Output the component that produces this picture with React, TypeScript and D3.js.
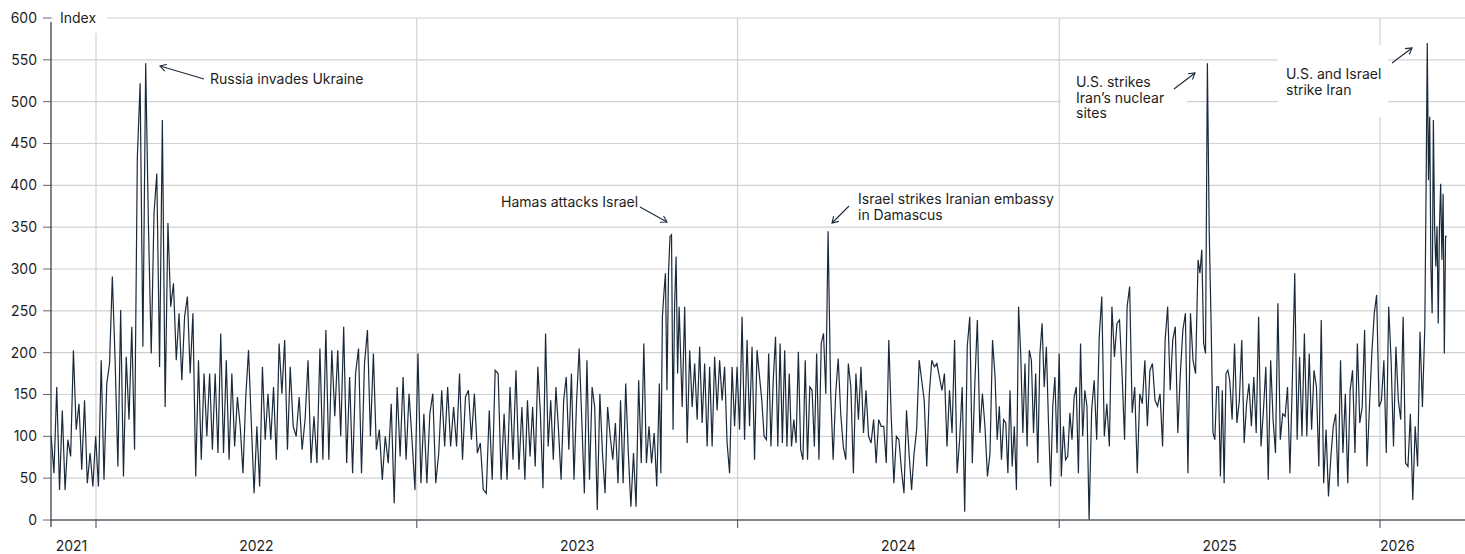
import React from 'react';
import * as d3 from 'd3';

// ---- data: daily index readings, grouped by period ----
const periodStarts = [
  '2021-11-11', '2022-08-10', '2023-05-04', '2023-10-04', '2023-10-30', '2024-01-26',
  '2024-04-13', '2024-10-20', '2025-02-04', '2025-06-08', '2025-07-14', '2026-02-21',
];
const lastDate = '2026-03-18';

const nov21ToAug22 = [100,56,159,36,131,36,96,76,203,108,
  139,60,143,44,80,40,100,40,191,48,
  163,187,291,191,64,251,52,195,120,231,
  84,434,522,207,546,351,199,367,414,183,
  478,135,355,255,283,191,247,167,243,267,
  175,247,52,191,72,175,100,175,84,175,
  80,223,80,191,72,175,88,147,112,56,
  147,203,116,32,112,40,183,96,151,96,
  159,72,211,151,215,84];
const aug22ToMay23 = [183,112,100,147,84,120,191,68,124,68,
  205,72,227,72,203,124,203,100,231,68,
  171,56,175,205,56,187,227,100,199,84,
  108,48,100,68,139,20,159,76,171,72,
  151,96,36,199,44,127,44,127,151,44,
  80,155,88,159,88,135,88,175,72,147,
  155,96,151,80,92,36,32,131,48,179,
  175,48,127,48,159,72,179,60,135];
const may23ToOct23 = [48,143,76,135,64,183,127,38,223,88,
  143,72,159,108,48,143,171,84,175,48,
  143,205,120,32,191,48,159,135,12,151,
  80,32,135,100,72,116,44,143,44,163,
  80,16,80,16,167,68,211,68,112,68,
  104,40];
const oct23Spike = [163,56,243,271,295,155,295,339,341,108,255,315,175,255,195];
const nov23ToJan24 = [135,255,92,203,135,187,120,207,116,187,
  88,183,88,195,131,191,143,183,92,56,
  183,112,183,108,243,96,215,112,207,72,
  203];
const jan24ToApr24 = [171,143,100,96,199,88,167,219,88,211,
  92,203,88,175,88,120,92,201,84,72,
  191,72,159,155,88,199,72,211,223,151];
const apr24ToOct24 = [345,155,72,151,193,127,88,72,187,159,
  56,175,120,183,104,155,100,92,120,68,
  120,112,112,68,215,120,44,100,96,60,
  32,131,80,36,80,108,191,167,143,64,
  151,191,183,187,171,155,175,88,155,104,
  215,56,96,159,10,207,243,68,163,239,
  104,151,112,52,80,215];
const oct24ToFeb25 = [171,96,136,72,120,116,56,155,64,112,
  36,255,199,104,187,88,203,191,104,175,
  68,199,235,159,207,116,40,136,171,80,
  199,52,112,72,76,128,96,147,159,56,
  211,100,155,136];
const feb25ToJun25 = [0,131,167,96,219,267,100,139,88,255,
  195,235,239,175,96,255,279,128,159,56,
  151,139,191,112,179,187,143,136,151,88,
  215,255,155,215,231,104,175,227,247,56,
  247,191,175];
const jun25Spike = [311,295,323,211,199,546,343,235,104,96,159,159,52,155,44,175,179];
const jul25ToFeb26 = [167,120,211,116,143,215,92,139,163,112,
  171,104,243,88,131,183,48,191,120,80,
  259,96,127,124,159,56,167,295,96,195,
  100,223,100,199,108,179,159,64,239,44,
  108,28,76,112,127,40,191,80,151,44,
  155,179,80,211,116,135,227,64,135,199,
  247,269,135,143,191,80,255,191,88,207,
  143,120,243,68,64,127,24,112,64,225,
  135];
const feb26Spike = [231,390,570,406,482,303,247,478,351,303,351,235,351,402,311,390,199,339,339];

const periods = [nov21ToAug22, aug22ToMay23, may23ToOct23, oct23Spike, nov23ToJan24, jan24ToApr24,
  apr24ToOct24, oct24ToFeb25, feb25ToJun25, jun25Spike, jul25ToFeb26, feb26Spike];

const yTicks = [0, 50, 100, 150, 200, 250, 300, 350, 400, 450, 500, 550, 600];
const yearLabels = ['2021', '2022', '2023', '2024', '2025', '2026'];

const annotations = [
  { lines: ['Russia invades Ukraine'], tx: 210, ty: 84, arrow: [204, 79, 160, 66] },
  { lines: ['Hamas attacks Israel'], tx: 501, ty: 207, arrow: [640, 207, 667, 222] },
  { lines: ['Israel strikes Iranian embassy', 'in Damascus'], tx: 858, ty: 204, arrow: [849, 206, 832, 223] },
  { lines: ['U.S. strikes', 'Iran\u2019s nuclear', 'sites'], tx: 1076, ty: 87, arrow: [1174, 89, 1195, 73], box: [1061, 62, 126, 71] },
  { lines: ['U.S. and Israel', 'strike Iran'], tx: 1286, ty: 79, arrow: [1392, 63, 1412, 48], box: [1278, 45, 110, 72] },
];

const W = 1465, H = 554;
const FONT = "Inter, 'Liberation Sans', Arial, sans-serif";

export default function App() {
  const parse = (s: string) => new Date(s + 'T00:00:00Z');
  const x = d3.scaleUtc().domain([new Date(Date.UTC(2022, 0, 1)), new Date(Date.UTC(2026, 0, 1))]).range([96, 1380]);
  const y = d3.scaleLinear().domain([0, 600]).range([520, 18]);
  const left = 51, right = W, bottom = y(0);

  const series: { date: Date; value: number }[] = [];
  periods.forEach((vals, i) => {
    const t0 = parse(periodStarts[i]).getTime();
    const isLast = i === periods.length - 1;
    const t1 = parse(isLast ? lastDate : periodStarts[i + 1]).getTime();
    const denom = isLast ? vals.length - 1 : vals.length;
    vals.forEach((v, k) => series.push({ date: new Date(t0 + (k / denom) * (t1 - t0)), value: v }));
  });

  const line = d3.line<{ date: Date; value: number }>().x(d => x(d.date)).y(d => y(d.value));
  const yearTicks = d3.utcYear.range(new Date(Date.UTC(2022, 0, 1)), new Date(Date.UTC(2026, 0, 2)));

  const yearPos = yearLabels.map((lab, i) => {
    const yr = +lab;
    const a = Math.max(left, x(new Date(Date.UTC(yr, 0, 1))));
    const b = x(new Date(Date.UTC(yr + 1, 0, 1)));
    if (i === yearLabels.length - 1) return { lab, px: a, anchor: 'start' };
    return { lab, px: (a + b) / 2 - (i === 0 ? 2 : 0), anchor: 'middle' };
  });

  const arrowHead = (x1: number, y1: number, x2: number, y2: number) => {
    const ang = Math.atan2(y2 - y1, x2 - x1);
    const L = 7, th = 0.55;
    const p1 = [x2 - L * Math.cos(ang - th), y2 - L * Math.sin(ang - th)];
    const p2 = [x2 - L * Math.cos(ang + th), y2 - L * Math.sin(ang + th)];
    return `M${p1[0]},${p1[1]}L${x2},${y2}L${p2[0]},${p2[1]}`;
  };

  return (
    <svg width={W} height={H} style={{ position: 'absolute', left: 0, top: 0, background: '#fff' }} fontFamily={FONT}>
      {/* horizontal grid */}
      {yTicks.map(t => (
        <line key={'g' + t} x1={left} x2={right} y1={y(t)} y2={y(t)} stroke="#d2d2d2" strokeWidth={1.2} />
      ))}
      {/* vertical grid */}
      {yearTicks.map(d => (
        <line key={'v' + d.getTime()} x1={x(d)} x2={x(d)} y1={y(600)} y2={bottom} stroke="#d2d2d2" strokeWidth={1.2} />
      ))}
      {/* label boxes */}
      <rect x={53} y={0} width={54} height={33} fill="#fff" />
      {annotations.filter(a => a.box).map((a, i) => (
        <rect key={'b' + i} x={a.box![0]} y={a.box![1]} width={a.box![2]} height={a.box![3]} fill="#fff" />
      ))}
      {/* y ticks and labels */}
      {yTicks.map(t => (
        <g key={'t' + t}>
          <line x1={43} x2={left} y1={y(t)} y2={y(t)} stroke="#666" strokeWidth={1} />
          <text x={37} y={y(t)} dy="0.35em" textAnchor="end" fontSize={14} fill="#1e1e1e">{t}</text>
        </g>
      ))}
      <text x={60} y={y(600)} dy="0.35em" fontSize={14} fill="#1e1e1e">Index</text>
      {/* data line */}
      <path d={line(series) || ''} fill="none" stroke="#1b2a3a" strokeWidth={1.2} strokeLinejoin="miter" />
      {/* axes */}
      <line x1={left} x2={right} y1={bottom} y2={bottom} stroke="#5d6470" strokeWidth={1.5} />
      <line x1={left} x2={left} y1={22} y2={527} stroke="#2c3440" strokeWidth={1.2} />
      {yearTicks.map(d => (
        <line key={'xt' + d.getTime()} x1={x(d)} x2={x(d)} y1={bottom} y2={bottom + 8} stroke="#5d6470" strokeWidth={1.2} />
      ))}
      {yearPos.map(p => (
        <text key={p.lab} x={p.px} y={551} textAnchor={p.anchor as any} fontSize={14} fill="#1e1e1e">{p.lab}</text>
      ))}
      {/* annotations */}
      {annotations.map((a, i) => (
        <g key={'a' + i}>
          {a.lines.map((ln, j) => (
            <text key={j} x={a.tx} y={a.ty + j * 15.5} fontSize={14} fill="#1e1e1e">{ln}</text>
          ))}
          <line x1={a.arrow[0]} y1={a.arrow[1]} x2={a.arrow[2]} y2={a.arrow[3]} stroke="#1b2a3a" strokeWidth={1.1} />
          <path d={arrowHead(a.arrow[0], a.arrow[1], a.arrow[2], a.arrow[3])} fill="none" stroke="#1b2a3a" strokeWidth={1.1} />
        </g>
      ))}
    </svg>
  );
}
